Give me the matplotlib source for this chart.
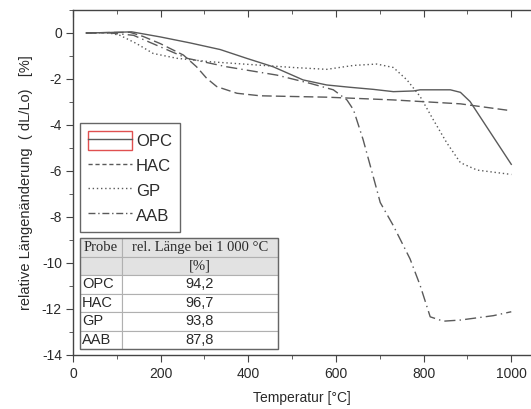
import matplotlib
matplotlib.use("Agg")
import matplotlib.pyplot as plt
from matplotlib.lines import Line2D
from matplotlib.patches import Rectangle
from matplotlib.ticker import MultipleLocator

plt.rcParams['font.family'] = ['Liberation Sans', 'DejaVu Sans']
plt.rcParams['axes.unicode_minus'] = False

# dilatometer curves
opc_t = [30, 80, 134, 199, 267, 336, 396, 457, 525, 579, 632, 685, 731, 777, 792, 861, 884, 906, 1000]
opc_v = [0, 0.02, 0.05, -0.17, -0.43, -0.72, -1.1, -1.47, -2.04, -2.26, -2.36, -2.45, -2.55, -2.52,
         -2.47, -2.47, -2.58, -2.98, -5.71]

hac_t = [30, 80, 130, 160, 199, 252, 282, 305, 328, 374, 427, 500, 579, 731, 884, 1000]
hac_v = [0, 0.02, 0.03, -0.15, -0.46, -0.96, -1.47, -1.97, -2.33, -2.62, -2.73, -2.76, -2.79, -2.91,
         -3.08, -3.38]

gp_t = [30, 80, 107, 145, 183, 237, 313, 389, 503, 579, 640, 693, 731, 762, 792, 822, 853, 884, 922, 1000]
gp_v = [0, 0.01, -0.1, -0.46, -0.89, -1.1, -1.25, -1.35, -1.5, -1.58, -1.41, -1.35, -1.5, -2.04,
        -2.76, -3.77, -4.78, -5.64, -5.96, -6.15]

aab_t = [30, 80, 138, 199, 260, 351, 465, 541, 594, 625, 640, 662, 693, 701, 731, 769, 792, 815, 845,
         884, 959, 1000]
aab_v = [0, 0.01, -0.1, -0.6, -1.1, -1.47, -1.83, -2.19, -2.47, -2.91, -3.34, -4.64, -6.8, -7.37,
         -8.38, -9.82, -10.97, -12.34, -12.53, -12.48, -12.29, -12.12]

proben = ["OPC", "HAC", "GP", "AAB"]
rel_laenge = ["94,2", "96,7", "93,8", "87,8"]

line_col = '#5a5a5a'
axis_col = '#444444'
text_col = '#2a2a2a'

fig = plt.figure(figsize=(5.31, 4.09), dpi=100)
ax = fig.add_axes([73 / 531, 54 / 409, 458 / 531, 345 / 409])

ax.plot(opc_t, opc_v, color=line_col, lw=1.0, ls='-')
ax.plot(hac_t, hac_v, color=line_col, lw=1.0, ls=(0, (7, 3)))
ax.plot(gp_t, gp_v, color=line_col, lw=1.0, ls=(0, (1, 2)))
ax.plot(aab_t, aab_v, color=line_col, lw=1.0, ls=(0, (8, 3, 1, 3)))

ax.set_xlim(0, 1045)
ax.set_ylim(-14, 1)
ax.xaxis.set_major_locator(MultipleLocator(200))
ax.xaxis.set_minor_locator(MultipleLocator(100))
ax.yaxis.set_major_locator(MultipleLocator(2))
ax.yaxis.set_minor_locator(MultipleLocator(1))
ax.spines['right'].set_visible(False)
for s in ['left', 'top', 'bottom']:
    ax.spines[s].set_color(axis_col)
    ax.spines[s].set_linewidth(1.0)
ax.tick_params(which='both', direction='out', colors=axis_col, labelcolor=text_col, labelsize=10)
ax.tick_params(which='major', length=5)
ax.tick_params(which='minor', length=3)
ax.tick_params(axis='x', which='both', top=True, labeltop=False)
ax.tick_params(axis='y', pad=3)

ax.set_xlabel('Temperatur [°C]', fontsize=10, color=text_col, labelpad=7)
ax.set_ylabel('relative Längenänderung  ( dL/Lo)   [%]', fontsize=10.5, color=text_col, labelpad=6)

# top ticks point inwards
for t in ax.xaxis.get_major_ticks() + ax.xaxis.get_minor_ticks():
    t.tick2line.set_marker(3)

# legend
h_opc = (Rectangle((0, 0), 1, 1, fill=False, edgecolor='#e05050', lw=1.0),
         Line2D([], [], color=line_col, lw=1.0, ls='-'))
h_hac = Line2D([], [], color=line_col, lw=1.0, ls=(0, (3, 2)))
h_gp = Line2D([], [], color=line_col, lw=1.0, ls=(0, (1, 2)))
h_aab = Line2D([], [], color=line_col, lw=1.0, ls=(0, (5, 2, 1, 2)))
leg = ax.legend([h_opc, h_hac, h_gp, h_aab], proben, loc='upper left',
                bbox_to_anchor=(0.0153, 0.672), borderaxespad=0, fontsize=12,
                handlelength=2.6, handleheight=1.3, handletextpad=0.25,
                labelspacing=0.4, borderpad=0.5, fancybox=False, framealpha=1)
leg.get_frame().set_edgecolor('#666666')
leg.get_frame().set_linewidth(1.0)
for t in leg.get_texts():
    t.set_color(text_col)

# table
cells = [["Probe", "rel. Länge bei 1 000 °C"], ["", "[%]"]] + [[p, v] for p, v in zip(proben, rel_laenge)]
tab = ax.table(cellText=cells, colWidths=[42, 156], cellLoc='center',
               bbox=[7 / 458, 6 / 345, 198 / 458, 111 / 345])
tab.auto_set_font_size(False)
for (r, c), cell in tab.get_celld().items():
    cell.set_linewidth(0.8)
    cell.set_edgecolor('#b0b0b0')
    cell.PAD = 0.05
    txt = cell.get_text()
    txt.set_color(text_col)
    if r < 2:
        cell.set_facecolor('#e2e2e2')
        txt.set_fontfamily(['Liberation Serif', 'DejaVu Serif'])
        txt.set_fontsize(10.5)
    else:
        cell.set_facecolor('white')
        txt.set_fontsize(10.5)
    if c == 0 and r >= 2:
        cell._loc = 'left'
        txt.set_ha('left')
ax.add_patch(Rectangle((7 / 458, 6 / 345), 198 / 458, 111 / 345, transform=ax.transAxes,
                       fill=False, edgecolor='#666666', lw=1.0, zorder=10))

fig.savefig('out.png', dpi=100)
